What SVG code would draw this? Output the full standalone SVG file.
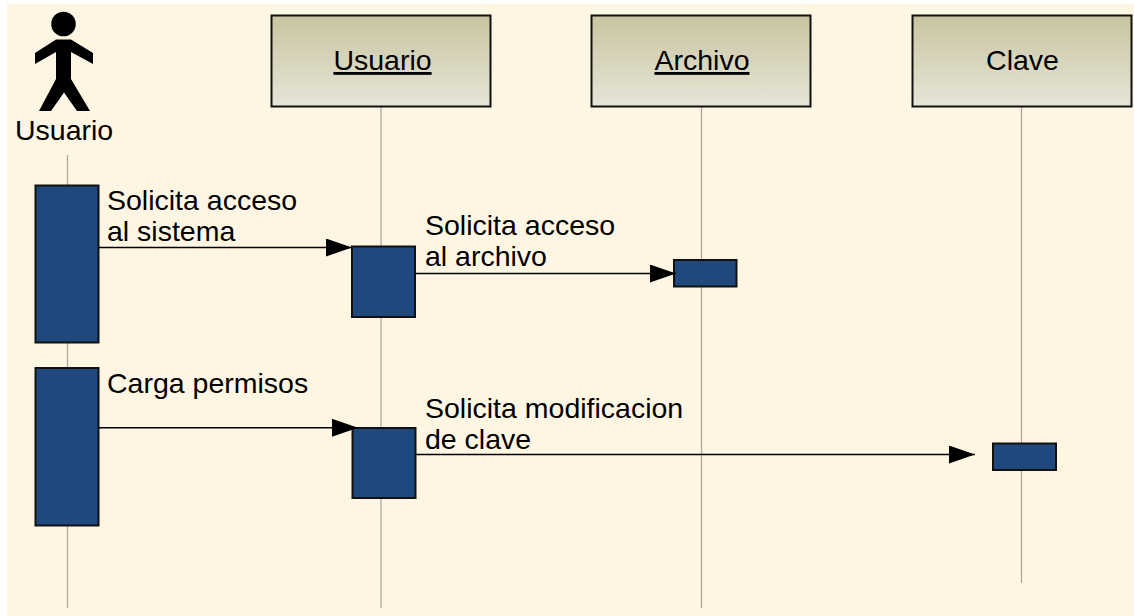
<svg xmlns="http://www.w3.org/2000/svg" width="1134" height="616" viewBox="0 0 1134 616">
<style>
text{font-family:"Liberation Sans",Arial,sans-serif;font-size:28.5px;fill:#000}
.life{stroke:#a9a59a;stroke-width:1.2;fill:none}
.box{fill:url(#hd);stroke:#111;stroke-width:2}
.act{fill:#1f497d;stroke:#111;stroke-width:2}
.msg{stroke:#000;stroke-width:1.5;fill:none;marker-end:url(#ah)}
</style>
<defs>
<linearGradient id="hd" x1="0" y1="0" x2="0" y2="1"><stop offset="0" stop-color="#c9c4a0"/><stop offset="1" stop-color="#e6e5d8"/></linearGradient>
<marker id="ah" markerUnits="userSpaceOnUse" markerWidth="27" markerHeight="18" refX="26" refY="9" orient="auto"><path d="M0 0L26 9L0 18Z" fill="#000"/></marker>
</defs>
<rect width="1134" height="616" fill="#fff"/>
<rect x="7" y="4" width="1127" height="612" fill="#fef6e3"/>
<g id="lifelines">
<path class="life" d="M67.500 155V608M381 107V608M701.500 107V608M1021.500 107V583"/>
</g>
<g id="actor-usuario">
<circle cx="63.500" cy="24" r="12.300" fill="#000"/>
<path d="M56 39.500H71L93 53V64L71 52V79L90 111H77L64 92.500L51 111H39L56 79V52L35 64V53Z" fill="#000"/>
<text x="15" y="140">Usuario</text>
</g>
<g id="obj-usuario"><rect class="box" x="271.500" y="15.500" width="219" height="91"/><text x="382.500" y="70" text-anchor="middle" text-decoration="underline">Usuario</text></g>
<g id="obj-archivo"><rect class="box" x="591.500" y="15.500" width="219" height="91"/><text x="702" y="70" text-anchor="middle" text-decoration="underline">Archivo</text></g>
<g id="obj-clave"><rect class="box" x="912.500" y="15.500" width="219" height="91"/><text x="1022.500" y="70" text-anchor="middle">Clave</text></g>
<g id="act-1"><rect class="act" x="35.500" y="185.500" width="63" height="157"/></g>
<g id="act-2"><rect class="act" x="352" y="246.500" width="63" height="70.500"/></g>
<g id="act-3"><rect class="act" x="674" y="260" width="62.500" height="26.500"/></g>
<g id="act-4"><rect class="act" x="35.500" y="368" width="63" height="157.500"/></g>
<g id="act-5"><rect class="act" x="352.500" y="428" width="63" height="70"/></g>
<g id="act-6"><rect class="act" x="993" y="443.500" width="63" height="26.500"/></g>
<g id="connectors">
<path class="msg" d="M98.500 247.500H352"/>
<path class="msg" d="M415 273.500H676"/>
<path class="msg" d="M98.500 427.800H358"/>
<path class="msg" d="M415.500 454.500H975"/>
</g>
<g id="labels">
<text x="107" y="210">Solicita acceso</text>
<text x="107" y="241">al sistema</text>
<text x="425" y="235">Solicita acceso</text>
<text x="425" y="266">al archivo</text>
<text x="107" y="393">Carga permisos</text>
<text x="425" y="418">Solicita modificacion</text>
<text x="425" y="449">de clave</text>
</g>
</svg>
